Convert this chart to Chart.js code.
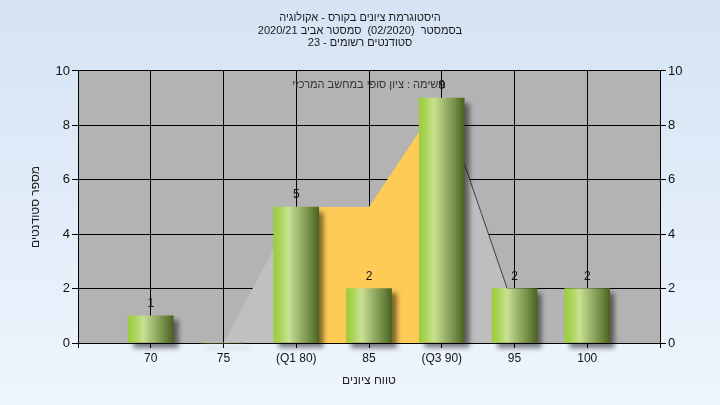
<!DOCTYPE html>
<html>
<head>
<meta charset="utf-8">
<script src="https://cdn.jsdelivr.net/npm/chart.js@4"></script>
<style>
  html, body { margin: 0; padding: 0; }
  #wrap { width: 720px; height: 405px; }
</style>
</head>
<body>
<div id="wrap"><canvas id="histChart" width="720" height="405"></canvas></div>
<script>
// grade bins and number of students in each
const scoreBins = [70, 75, 80, 85, 90, 95, 100];
const binLabels = ["70", "75", "(Q1 80)", "85", "(Q3 90)", "95", "100"];
const studentCounts = [1, 0, 5, 2, 9, 2, 2];

// background area: grey tails and orange quartile range
const tailLeftX = [75, 80];
const tailLeftY = [0, 5];
const quartileX = [80, 85, 90];
const quartileY = [5, 5, 9];
const tailRightX = [90, 94.5];
const tailRightY = [9, 2];

const titleLines = [
    "היסטוגרמת ציונים בקורס - אקולוגיה",
    "בסמסטר  (02/2020)  סמסטר אביב 2020/21",
    "סטודנטים רשומים - 23"
];
const innerTitle = "משימה : ציון סופי במחשב המרכזי";
const xTitle = "טווח ציונים";
const yTitle = "מספר סטודנטים";

const FONT = "'Liberation Sans', Arial, sans-serif";

function toPoints(xs, ys) {
    return xs.map((x, i) => ({ x: x, y: ys[i] }));
}

const bgPlugin = {
    id: "bg",
    beforeDraw(chart) {
        const ctx = chart.ctx;
        const g = ctx.createLinearGradient(0, 0, 0, chart.height);
        g.addColorStop(0, "#d5e3f4");
        g.addColorStop(1, "#eef5fd");
        ctx.save();
        ctx.fillStyle = g;
        ctx.fillRect(0, 0, chart.width, chart.height);
        const a = chart.chartArea;
        ctx.fillStyle = "#b3b3b3";
        ctx.fillRect(a.left, a.top, a.right - a.left, a.bottom - a.top);
        ctx.restore();
    }
};

const shadowPlugin = {
    id: "barShadow",
    beforeDatasetDraw(chart, args) {
        if (args.meta.type !== "bar") return;
        const ctx = chart.ctx;
        ctx.save();
        ctx.shadowColor = "rgba(0,0,0,0.5)";
        ctx.shadowBlur = 5;
        ctx.shadowOffsetX = 5;
        ctx.shadowOffsetY = 5;
    },
    afterDatasetDraw(chart, args) {
        if (args.meta.type !== "bar") return;
        chart.ctx.restore();
    }
};

const labelPlugin = {
    id: "labels",
    afterDatasetsDraw(chart) {
        const ctx = chart.ctx;
        const a = chart.chartArea;
        ctx.save();
        ctx.font = "11px " + FONT;
        ctx.fillStyle = "#333";
        ctx.textAlign = "center";
        ctx.textBaseline = "middle";
        ctx.direction = "rtl";
        ctx.fillText(innerTitle, (a.left + a.right) / 2, a.top + 14);
        ctx.direction = "ltr";
        ctx.font = "12px " + FONT;
        ctx.fillStyle = "#111";
        const meta = chart.getDatasetMeta(0);
        meta.data.forEach((bar, i) => {
            if (studentCounts[i] > 0) ctx.fillText(String(studentCounts[i]), bar.x, bar.y - 12);
        });
        ctx.restore();
    }
};

function barFill(c) {
    const chart = c.chart;
    if (!chart.chartArea || c.type !== "data") return "#9fcc3f";
    const cx = chart.scales.x.getPixelForValue(scoreBins[c.dataIndex]);
    const g = chart.ctx.createLinearGradient(cx - 22.5, 0, cx + 22.5, 0);
    g.addColorStop(0, "#9ccc3c");
    g.addColorStop(0.15, "#acd45a");
    g.addColorStop(0.33, "#c8e192");
    g.addColorStop(0.55, "#a0b870");
    g.addColorStop(0.8, "#718c44");
    g.addColorStop(1, "#4a6321");
    return g;
}

const ctx = document.getElementById("histChart").getContext("2d");
const chart = new Chart(ctx, {
    type: "bar",
    data: {
        datasets: [
            {
                type: "bar",
                data: toPoints(scoreBins, studentCounts),
                backgroundColor: barFill,
                borderWidth: 0,
                barThickness: 45,
                clip: false,
                order: 0
            },
            {
                type: "line",
                data: toPoints(tailLeftX, tailLeftY),
                fill: "origin",
                backgroundColor: "#c0c0c0",
                borderWidth: 0,
                pointRadius: 0,
                tension: 0,
                order: 2
            },
            {
                type: "line",
                data: toPoints(quartileX, quartileY),
                fill: "origin",
                backgroundColor: "#fecb57",
                borderWidth: 0,
                pointRadius: 0,
                tension: 0,
                order: 1
            },
            {
                type: "line",
                data: toPoints(tailRightX, tailRightY),
                fill: "origin",
                backgroundColor: "#bebebe",
                borderColor: "#404040",
                borderWidth: 1,
                pointRadius: 0,
                tension: 0,
                order: 3
            }
        ]
    },
    options: {
        responsive: false,
        animation: false,
        plugins: {
            legend: { display: false },
            tooltip: { enabled: false },
            title: {
                display: true,
                text: titleLines,
                rtl: true,
                color: "#1a1a1a",
                font: { family: FONT, size: 11, weight: "normal", lineHeight: 1.18 },
                padding: { top: 11, bottom: 21 }
            }
        },
        scales: {
            x: {
                type: "linear",
                min: 65,
                max: 105,
                offset: false,
                afterFit(scale) { scale.height = 62; },
                ticks: {
                    stepSize: 5,
                    color: "#111",
                    font: { family: FONT, size: 12 },
                    maxRotation: 0,
                    padding: 3,
                    callback: (v) => {
                        const i = scoreBins.indexOf(v);
                        return i >= 0 ? binLabels[i] : "";
                    }
                },
                grid: { color: "#000", lineWidth: 1, tickLength: 5, offset: false },
                border: { color: "#000" },
                title: {
                    display: true,
                    text: xTitle,
                    color: "#222",
                    font: { family: FONT, size: 12 },
                    padding: { top: 0, bottom: 17 }
                }
            },
            y: {
                position: "left",
                min: 0,
                max: 10,
                afterFit(scale) { scale.width = 78; },
                ticks: {
                    stepSize: 2,
                    color: "#111",
                    font: { family: FONT, size: 13 },
                    padding: 2
                },
                grid: { color: "#000", lineWidth: 1, tickLength: 6 },
                border: { color: "#000" },
                title: {
                    display: true,
                    text: yTitle,
                    color: "#222",
                    font: { family: FONT, size: 12 },
                    padding: { top: 28, bottom: 0 }
                }
            },
            y2: {
                position: "right",
                min: 0,
                max: 10,
                afterFit(scale) { scale.width = 60; },
                ticks: {
                    stepSize: 2,
                    color: "#111",
                    font: { family: FONT, size: 13 },
                    padding: 2
                },
                grid: { drawOnChartArea: false, color: "#000", tickLength: 6 },
                border: { color: "#000" }
            }
        }
    },
    plugins: [bgPlugin, shadowPlugin, labelPlugin]
});
</script>
</body>
</html>
